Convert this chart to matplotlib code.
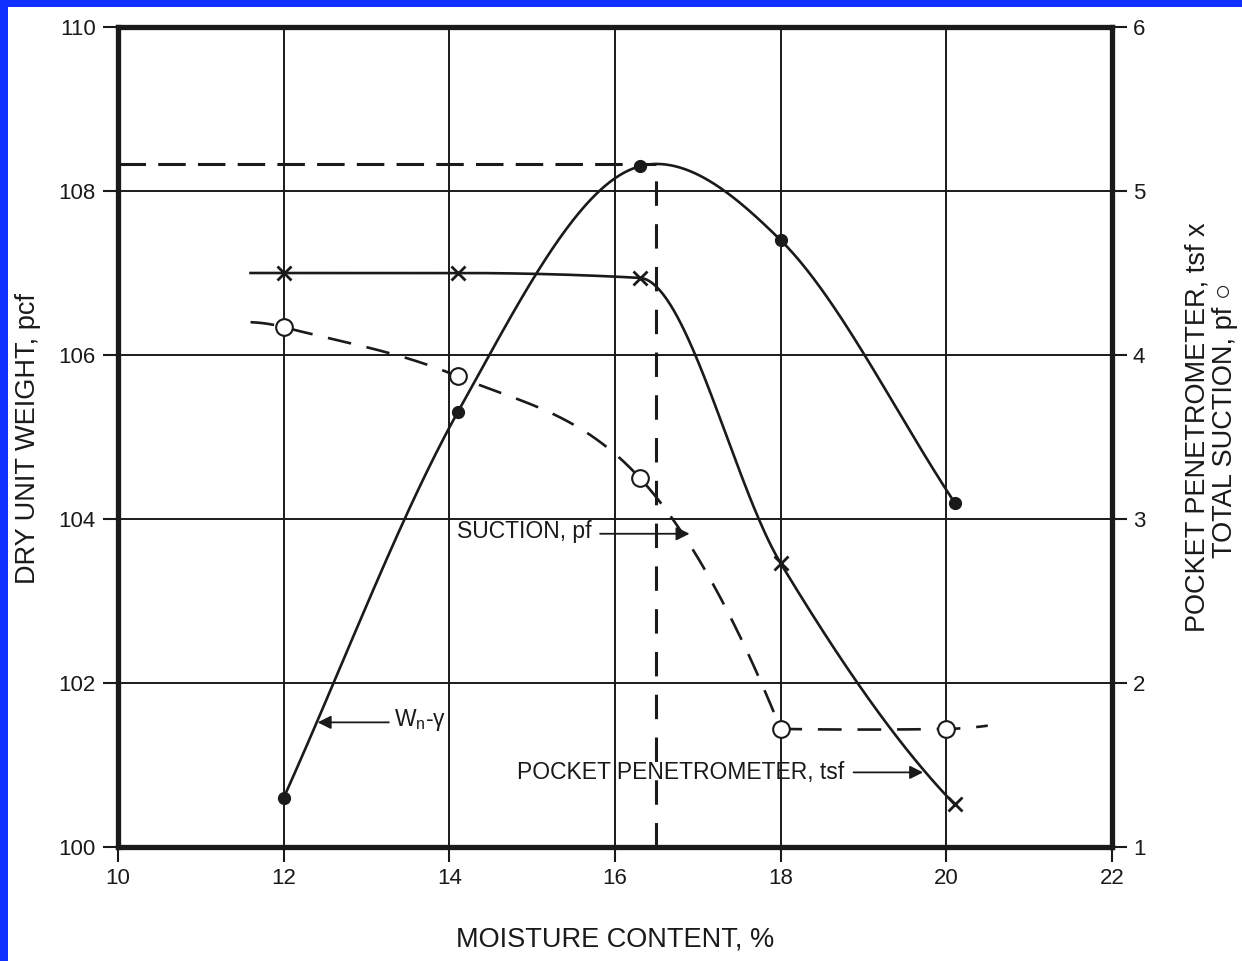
import numpy as np
import matplotlib
matplotlib.use('Agg')
import matplotlib.pyplot as plt
from matplotlib.patches import Rectangle

plt.rcParams['font.family'] = ['Liberation Sans', 'DejaVu Sans']
plt.rcParams['mathtext.fontset'] = 'custom'
plt.rcParams['mathtext.rm'] = 'Liberation Sans'

# ---------------- data ----------------
dry_moisture = [12.0, 14.1, 16.3, 18.0, 20.1]
dry_unit_weight = [100.6, 105.3, 108.3, 107.4, 104.2]

pen_moisture = [12.0, 14.1, 16.3, 18.0, 20.1]
pocket_penetrometer = [4.5, 4.5, 4.47, 2.73, 1.26]

suction_moisture = [12.0, 14.1, 16.3, 18.0, 20.0]
total_suction = [4.17, 3.87, 3.25, 1.72, 1.72]

# where the drawn curves start / end beyond the measured points
pen_line_start_x, pen_line_start_y = 11.6, 4.5
suction_line_start_x, suction_line_start_y = 11.6, 4.2
suction_line_end_x, suction_line_end_y = 20.5, 1.74

optimum_moisture = 16.5
max_dry_unit_weight = 108.33

x_ticks = [10, 12, 14, 16, 18, 20, 22]
left_ticks = [100, 102, 104, 106, 108, 110]
right_ticks = [1, 2, 3, 4, 5, 6]

INK = '#1a1a1a'


# ---------------- smooth curve rendering helpers ----------------
def hermite(xs, ys, t, n=80):
    px, py = [], []
    for k in range(len(xs) - 1):
        h = xs[k + 1] - xs[k]
        s = np.linspace(0, 1, n)
        h00 = 2 * s**3 - 3 * s**2 + 1
        h10 = s**3 - 2 * s**2 + s
        h01 = -2 * s**3 + 3 * s**2
        h11 = s**3 - s**2
        yy = h00 * ys[k] + h10 * h * t[k] + h01 * ys[k + 1] + h11 * h * t[k + 1]
        xx = xs[k] + s * h
        if k > 0:
            xx, yy = xx[1:], yy[1:]
        px.append(xx)
        py.append(yy)
    return np.concatenate(px), np.concatenate(py)


def catmull(xs, ys):
    xs = np.asarray(xs, float)
    ys = np.asarray(ys, float)
    if len(xs) == 2:
        return xs, ys
    m = np.diff(ys) / np.diff(xs)
    t = np.empty_like(xs)
    t[1:-1] = (ys[2:] - ys[:-2]) / (xs[2:] - xs[:-2])
    t[0] = 2 * m[0] - t[1]
    t[-1] = 2 * m[-1] - t[-2]
    return hermite(xs, ys, t)


def bessel(xs, ys, flat_at=None):
    xs = np.asarray(xs, float)
    ys = np.asarray(ys, float)
    h = np.diff(xs)
    m = np.diff(ys) / h
    t = np.empty_like(xs)
    t[1:-1] = (h[1:] * m[:-1] + h[:-1] * m[1:]) / (h[:-1] + h[1:])
    t[0] = m[0]
    t[-1] = m[-1]
    if flat_at is not None:
        t[np.argmin(np.abs(xs - flat_at))] = 0.0
    return hermite(xs, ys, t)


def pchip(xs, ys):
    xs = np.asarray(xs, float)
    ys = np.asarray(ys, float)
    h = np.diff(xs)
    m = np.diff(ys) / h
    t = np.zeros_like(xs)
    for k in range(1, len(xs) - 1):
        if m[k - 1] * m[k] > 0:
            w1 = 2 * h[k] + h[k - 1]
            w2 = h[k] + 2 * h[k - 1]
            t[k] = (w1 + w2) / (w1 / m[k - 1] + w2 / m[k])

    def end(h0, h1, m0, m1):
        d = ((2 * h0 + h1) * m0 - h0 * m1) / (h0 + h1)
        if np.sign(d) != np.sign(m0):
            d = 0.0
        elif np.sign(m0) != np.sign(m1) and abs(d) > abs(3 * m0):
            d = 3 * m0
        return d

    t[0] = end(h[0], h[1], m[0], m[1])
    t[-1] = end(h[-1], h[-2], m[-1], m[-2])
    return hermite(xs, ys, t)


# ---------------- figure ----------------
fig = plt.figure(figsize=(12.42, 9.61), dpi=100, facecolor='#1030ff')
fig.patches.append(Rectangle((8 / 1242, 0), 1, 1 - 7 / 961, transform=fig.transFigure,
                             facecolor='white', edgecolor='none', zorder=-5))

ax = fig.add_axes([118 / 1242, 1 - 847 / 961, (1112 - 118) / 1242, (847 - 27) / 961])
ax.set_facecolor('white')
ax.set_xlim(10, 22)
ax.set_ylim(100, 110)
ax.set_xticks(x_ticks)
ax.set_yticks(left_ticks)
ax.grid(True, color=INK, lw=1.4)
ax.set_axisbelow(True)
for sp in ax.spines.values():
    sp.set_linewidth(3.8)
    sp.set_color(INK)
ax.tick_params(axis='both', direction='out', length=11, width=1.5, colors=INK,
               labelsize=16)
ax.tick_params(axis='y', pad=5)
ax.tick_params(axis='x', pad=4)

ax2 = ax.twinx()
ax2.set_ylim(1, 6)
ax2.set_yticks(right_ticks)
for sp in ax2.spines.values():
    sp.set_visible(False)
ax2.tick_params(axis='y', direction='out', length=11, width=1.5, colors=INK,
                labelsize=16, pad=4)

# optimum dashed guide lines
ax.plot([10, optimum_moisture], [max_dry_unit_weight, max_dry_unit_weight],
        color=INK, lw=2.2, ls=(0, (9, 4)), zorder=3)
ax.plot([optimum_moisture, optimum_moisture], [100, max_dry_unit_weight],
        color=INK, lw=2.2, ls=(0, (8, 6)), zorder=3)

# dry unit weight curve (its maximum sits at the optimum point)
knots = sorted(zip(dry_moisture + [optimum_moisture],
                   dry_unit_weight + [max_dry_unit_weight]))
cx, cy = bessel([p[0] for p in knots], [p[1] for p in knots], flat_at=optimum_moisture)
ax.plot(cx, cy, color=INK, lw=1.9, zorder=4)
ax.plot(dry_moisture, dry_unit_weight, 'o', ms=8.5, color=INK, zorder=5)

# pocket penetrometer curve
px, py = pchip([pen_line_start_x] + pen_moisture, [pen_line_start_y] + pocket_penetrometer)
ax2.plot(px, py, color=INK, lw=1.9, zorder=4)
ax2.plot(pen_moisture, pocket_penetrometer, 'x', ms=10, mew=2, color=INK, zorder=5)

# total suction curve (dashed, corner at 18 %)
sx_all = [suction_line_start_x] + suction_moisture + [suction_line_end_x]
sy_all = [suction_line_start_y] + total_suction + [suction_line_end_y]
k = sx_all.index(18.0)
ax1x, ax1y = catmull(sx_all[:k + 1], sy_all[:k + 1])
bx, by = catmull(sx_all[k:], sy_all[k:])
sx = np.concatenate([ax1x, bx[1:]])
sy = np.concatenate([ax1y, by[1:]])
ax2.plot(sx, sy, color=INK, lw=1.9, ls=(0, (9, 6)), zorder=4)
ax2.plot(suction_moisture, total_suction, 'o', ms=12, mfc='white', mec=INK, mew=1.5,
         zorder=5)

# annotations
arrow = dict(arrowstyle='-|>', lw=1.3, color=INK, mutation_scale=20,
             shrinkA=0, shrinkB=0)
ax.annotate('', xy=(12.41, 101.52), xytext=(13.27, 101.52), arrowprops=arrow, zorder=6)
ax.text(13.33, 101.55, r'W$_{\mathregular{n}}$-γ', fontsize=16.5, color=INK,
        ha='left', va='center', zorder=6)

ax.text(15.72, 103.85, 'SUCTION, pf', fontsize=16.5, color=INK,
        ha='right', va='center', zorder=6)
ax.annotate('', xy=(16.9, 103.82), xytext=(15.82, 103.82), arrowprops=arrow, zorder=6)

ax.text(14.82, 100.91, 'POCKET PENETROMETER, tsf', fontsize=16.5, color=INK,
        ha='left', va='center', zorder=6)
ax.annotate('', xy=(19.72, 100.91), xytext=(18.88, 100.91), arrowprops=arrow, zorder=6)

# axis titles
fig.text(615 / 1242, 1 - 940 / 961, 'MOISTURE CONTENT, %', fontsize=19.5, color=INK,
         ha='center', va='center')
fig.text(28 / 1242, 1 - 439 / 961, 'DRY UNIT WEIGHT, pcf', fontsize=19.5, color=INK,
         ha='center', va='center', rotation=90)
fig.text(1198 / 1242, 1 - 427 / 961, 'POCKET PENETROMETER, tsf x', fontsize=19.5,
         color=INK, ha='center', va='center', rotation=90)
fig.text(1225 / 1242, 1 - 420 / 961, 'TOTAL SUCTION, pf ○', fontsize=19.5,
         color=INK, ha='center', va='center', rotation=90)

fig.savefig('out.png', dpi=100, facecolor=fig.get_facecolor())
